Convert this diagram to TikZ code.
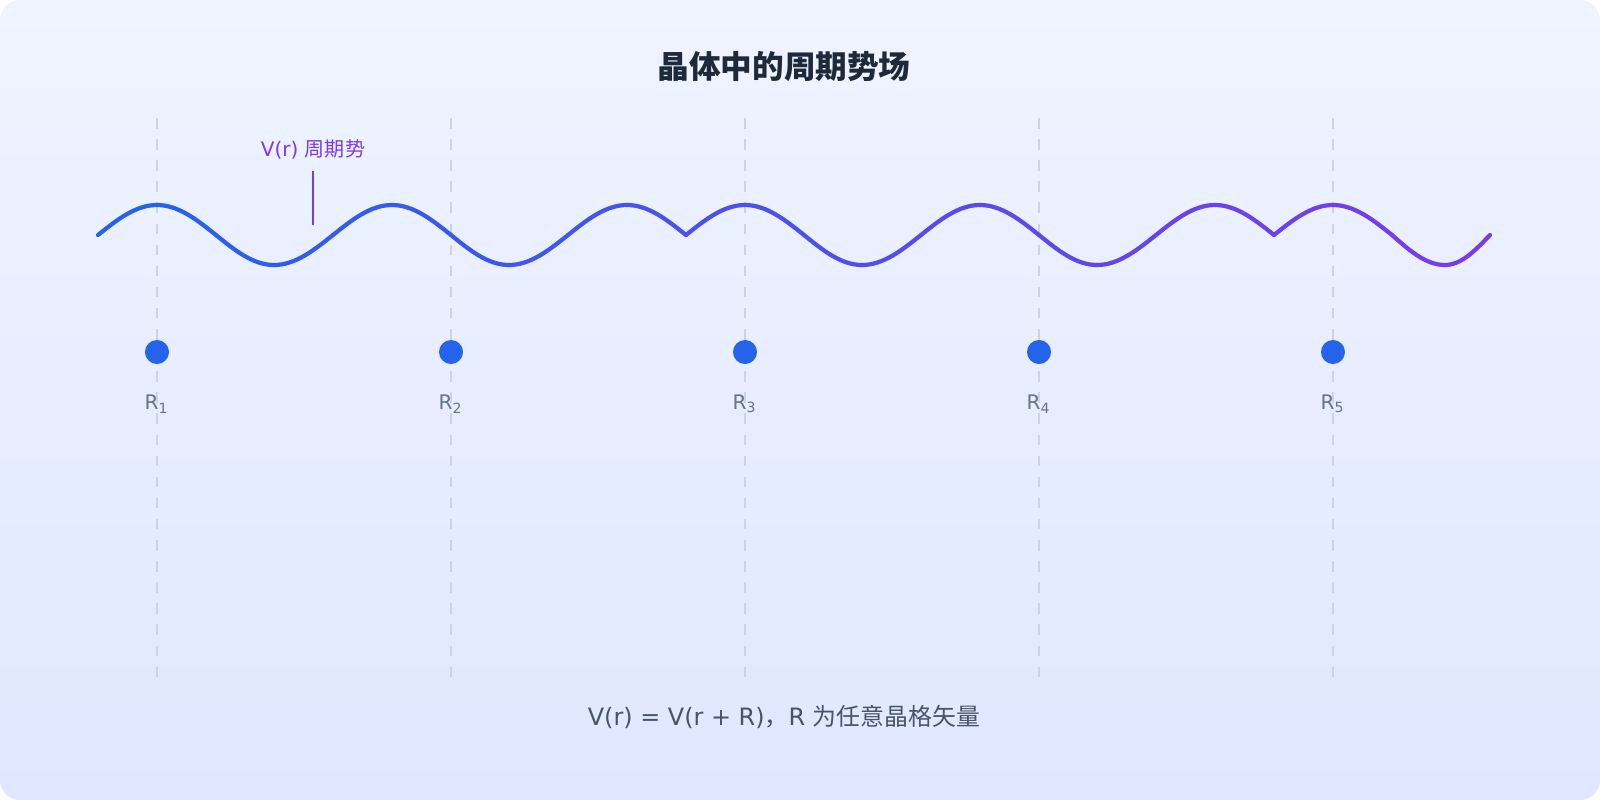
\documentclass[tikz,border=0pt]{standalone}
\usepackage{fontspec}
\setmainfont{DejaVu Sans}
\newfontfamily\cjk{Noto Sans CJK SC}
\usetikzlibrary{positioning}
\definecolor{bgtop}{HTML}{EFF4FF}
\definecolor{bgbot}{HTML}{E0E7FF}
\definecolor{wblue}{HTML}{2563EB}
\definecolor{wpurple}{HTML}{7C3AED}
\definecolor{titlec}{HTML}{1E293B}
\definecolor{labelc}{HTML}{64748B}
\definecolor{notec}{HTML}{475569}
\definecolor{gridc}{HTML}{CBD5E1}
\begin{document}
\begin{tikzpicture}[x=0.01cm, y=-0.01cm,
    site/.style={circle, fill=wblue, inner sep=0pt, minimum size=0.24cm},
    sitelabel/.style={text=labelc, font=\fontsize{5.7pt}{7pt}\selectfont},
    cell/.style={gridc, dashed, line width=0.4pt}]

    % Fond
    \useasboundingbox (0,0) rectangle (1600,800);
    \shade[top color=bgtop, bottom color=bgbot, rounded corners=0.2cm] (0,0) rectangle (1600,800);

    % Titre
    \node[text=titlec, font=\cjk\bfseries\fontsize{9pt}{11pt}\selectfont] (title) at (784,67) {晶体中的周期势场};

    % Mailles et sites
    \foreach \i/\x in {1/157,2/451,3/745,4/1039,5/1333} {
        \draw[cell] (\x,118) -- (\x,685);
        \node[site] (R\i) at (\x,352) {};
        \node[sitelabel] (L\i) at (\x,404) {R\textsubscript{\fontsize{4pt}{5pt}\selectfont\i}};
    }

    % Potentiel periodique
    \def\pts{98/0/157/-1, 157/-1/216/0, 216/0/274/1, 274/1/333/0, 333/0/392/-1, 392/-1/451/0,
             451/0/509/1, 509/1/568/0, 568/0/627/-1, 627/-1/686/0, 686/0/745/-1, 745/-1/804/0,
             804/0/862/1, 862/1/921/0, 921/0/980/-1, 980/-1/1039/0, 1039/0/1097/1, 1097/1/1156/0,
             1156/0/1215/-1, 1215/-1/1274/0, 1274/0/1333/-1, 1333/-1/1392/0, 1392/0/1445/1, 1445/1/1490/0}
    \foreach \xa/\la/\xb/\lb in \pts {
        \pgfmathtruncatemacro\mix{100-(\xa-98)/13.92}
        \ifnum\lb=0
            \draw[wblue!\mix!wpurple, line width=1.2pt, line cap=round] (\xa,235+30*\la) cos (\xb,235);
        \else
            \draw[wblue!\mix!wpurple, line width=1.2pt, line cap=round] (\xa,235) sin (\xb,235+30*\lb);
        \fi
    }

    % Annotation
    \node[text=wpurple, font=\fontsize{5.7pt}{7pt}\selectfont] (vlab) at (313,149) {V(r) {\cjk 周期势}};
    \coordinate (vtip) at (313,225);
    \draw[wpurple, line width=0.5pt] (vlab.south) -- (vtip);

    % Relation
    \node[text=notec, font=\fontsize{6.8pt}{8pt}\selectfont] (rel) at (784,717) {V(r) = V(r + R){\cjk ，}R {\cjk 为任意晶格矢量}};

\end{tikzpicture}
\end{document}
